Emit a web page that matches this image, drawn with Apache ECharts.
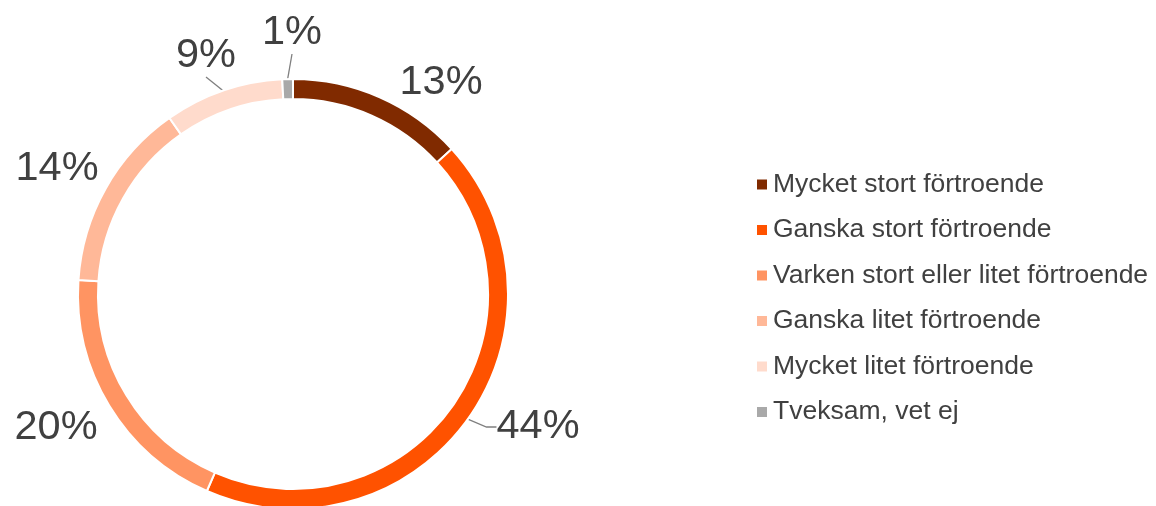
<!DOCTYPE html>
<html>
<head>
<meta charset="utf-8">
<title>Förtroende</title>
<script src="https://cdn.jsdelivr.net/npm/echarts@6/dist/echarts.min.js"></script>
<style>
  html, body { margin: 0; padding: 0; background: #fff; }
  #chart { width: 1156px; height: 506px; }
</style>
</head>
<body>
<div id="chart"></div>
<script>
// svarskategorier
const categories = [
  'Mycket stort förtroende',
  'Ganska stort förtroende',
  'Varken stort eller litet förtroende',
  'Ganska litet förtroende',
  'Mycket litet förtroende',
  'Tveksam, vet ej'
]
// andel i procent
const shares = [13.3, 43.6, 19.6, 14.3, 9.0, 0.8]

const colors = ['#802A00', '#FF5200', '#FF9462', '#FFB898', '#FFDBCC', '#A9A9A9']
// vilka etiketter som har hänvisningslinje, och hur lång den vågräta biten är
const showLine = [false, true, false, false, true, true]
const lineHook = [0, 10, 0, 0, 0, 0]
// etiketternas mittpunkter (px)
const labelSpots = [[441, 83], [538, 427], [56, 428], [57, 169], [206, 56], [292, 33]]

const chart = echarts.init(document.getElementById('chart'))

const seriesData = categories.map((name, i) => {
  return {
    name: name,
    value: shares[i],
    labelLine: { show: showLine[i], length2: lineHook[i] }
  }
})

const option = {
  animation: false,
  color: colors,
  legend: {
    orient: 'vertical',
    left: 750,
    top: 166,
    icon: 'rect',
    itemWidth: 12,
    itemHeight: 12,
    itemGap: 18.5,
    selectedMode: false,
    data: categories,
    textStyle: {
      fontFamily: 'Liberation Sans',
      fontSize: 26.5,
      color: '#404040'
    }
  },
  series: [
    {
      type: 'pie',
      center: [293, 294],
      radius: [195, 215],
      startAngle: 90,
      clockwise: true,
      avoidLabelOverlap: false,
      silent: true,
      itemStyle: {
        borderColor: '#fff',
        borderWidth: 2
      },
      label: {
        show: true,
        position: 'outside',
        formatter: (p) => Math.round(p.value) + '%',
        fontFamily: 'Liberation Sans',
        fontSize: 41.5,
        color: '#404040',
        padding: [4, 10]
      },
      labelLine: {
        length: 10,
        length2: 10,
        lineStyle: {
          color: '#7F7F7F',
          width: 1.3
        }
      },
      // etiketterna placeras som i originalet, linjen räknas om av echarts
      labelLayout: (params) => {
        const p = labelSpots[params.dataIndex]
        return {
          x: p[0],
          y: p[1],
          align: 'center',
          verticalAlign: 'middle'
        }
      },
      data: seriesData
    }
  ]
}

chart.setOption(option)
</script>
</body>
</html>
